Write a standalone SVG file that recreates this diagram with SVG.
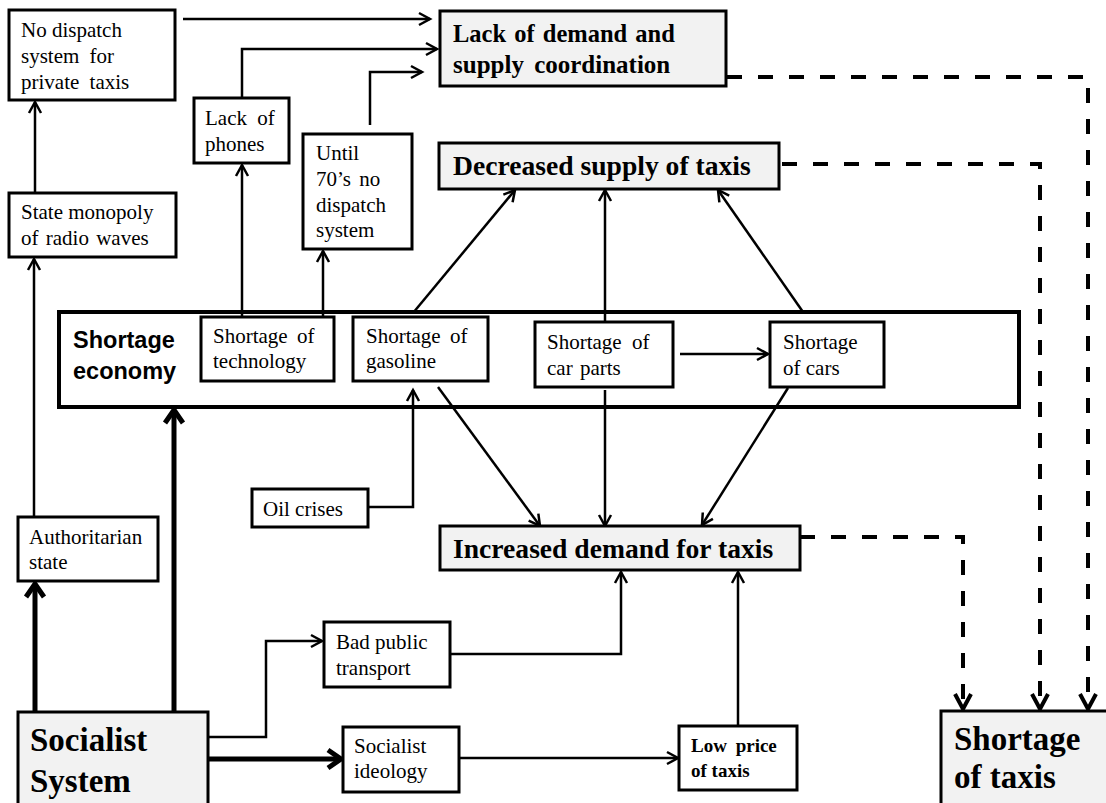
<svg xmlns="http://www.w3.org/2000/svg" width="1106" height="803" viewBox="0 0 1106 803">
<style>
.box{fill:#fff;stroke:#000;stroke-width:3}
.hl{fill:#f2f2f2;stroke:#000;stroke-width:3}
.big{fill:none;stroke:#000;stroke-width:4}
.t{font-family:"Liberation Serif","Times New Roman",serif;font-size:21px;fill:#000}
.tb{font-family:"Liberation Serif","Times New Roman",serif;font-weight:bold;fill:#000}
.ts{font-family:"Liberation Sans",Arial,sans-serif;font-weight:bold;font-size:23.5px;fill:#000}
.c{fill:none;stroke:#000;stroke-width:2.5}
.ck{fill:none;stroke:#000;stroke-width:5}
.d{fill:none;stroke:#000;stroke-width:4;stroke-dasharray:15 16}
</style>
<defs>
<marker id="a" markerUnits="userSpaceOnUse" markerWidth="30" markerHeight="30" viewBox="-15 -15 30 30" refX="0" refY="0" orient="auto"><path d="M-11,-6 L0,0 L-11,6" fill="none" stroke="#000" stroke-width="2.5"/></marker>
<marker id="ak" markerUnits="userSpaceOnUse" markerWidth="40" markerHeight="40" viewBox="-20 -20 40 40" refX="0" refY="0" orient="auto"><path d="M-13,-9 L0,0 L-13,9" fill="none" stroke="#000" stroke-width="5"/></marker>
<marker id="ad" markerUnits="userSpaceOnUse" markerWidth="40" markerHeight="40" viewBox="-20 -20 40 40" refX="0" refY="0" orient="auto"><path d="M-15,-8 L0,0 L-15,8" fill="none" stroke="#000" stroke-width="4"/></marker>
</defs>

<g id="connectors">
<path class="c" d="M183,19 H430" marker-end="url(#a)"/>
<path class="c" d="M242,98 V49 H437" marker-end="url(#a)"/>
<path class="c" d="M370,125 V72 H422" marker-end="url(#a)"/>
<path class="c" d="M35,193 V102" marker-end="url(#a)"/>
<path class="c" d="M34,517 V259" marker-end="url(#a)"/>
<path class="c" d="M242,316 V165" marker-end="url(#a)"/>
<path class="c" d="M323,316 V251" marker-end="url(#a)"/>
<path class="c" d="M413,313 L515,190" marker-end="url(#a)"/>
<path class="c" d="M605,322 V190" marker-end="url(#a)"/>
<path class="c" d="M803,312 L718,190" marker-end="url(#a)"/>
<path class="c" d="M680,354 H768" marker-end="url(#a)"/>
<path class="c" d="M438,387 L540,526" marker-end="url(#a)"/>
<path class="c" d="M605,390 V526" marker-end="url(#a)"/>
<path class="c" d="M788,388 L702,525" marker-end="url(#a)"/>
<path class="c" d="M368,507 H413 V390" marker-end="url(#a)"/>
<path class="ck" d="M35,712 V584" marker-end="url(#ak)"/>
<path class="ck" d="M174,712 V410" marker-end="url(#ak)"/>
<path class="c" d="M208,737 H266 V641 H322" marker-end="url(#a)"/>
<path class="ck" d="M208,759 H341" marker-end="url(#ak)"/>
<path class="c" d="M450,654 H621 V572" marker-end="url(#a)"/>
<path class="c" d="M459,758 H678" marker-end="url(#a)"/>
<path class="c" d="M738,726 V572" marker-end="url(#a)"/>
<path class="d" d="M727,77 H1088 V709" marker-end="url(#ad)"/>
<path class="d" d="M782,164 H1040 V709" marker-end="url(#ad)"/>
<path class="d" d="M800,537 H963 V709" marker-end="url(#ad)"/>
</g>

<g id="shortage-economy">
<rect class="big" x="59" y="312" width="960" height="95"/>
<text class="ts" x="73" y="348">Shortage</text>
<text class="ts" x="73" y="379">economy</text>
</g>

<g id="no-dispatch">
<rect class="box" x="9" y="10" width="166" height="90"/>
<text class="t" x="21" y="37">No dispatch</text>
<text class="t" x="21" y="63" word-spacing="5">system for</text>
<text class="t" x="21" y="89" word-spacing="5">private taxis</text>
</g>

<g id="lack-coordination">
<rect class="hl" x="440" y="11" width="286" height="75"/>
<text class="tb" font-size="24.5" x="453" y="42" word-spacing="2">Lack of demand and</text>
<text class="tb" font-size="25" x="453" y="73" word-spacing="4">supply coordination</text>
</g>

<g id="lack-phones">
<rect class="box" x="194" y="98" width="95" height="65"/>
<text class="t" x="205" y="125" word-spacing="5">Lack of</text>
<text class="t" x="205" y="151">phones</text>
</g>

<g id="until-70s">
<rect class="box" x="303" y="134" width="109" height="115"/>
<text class="t" x="316" y="160">Until</text>
<text class="t" x="316" y="186" word-spacing="3">70’s no</text>
<text class="t" x="316" y="212">dispatch</text>
<text class="t" x="316" y="237">system</text>
</g>

<g id="state-monopoly">
<rect class="box" x="9" y="193" width="167" height="64"/>
<text class="t" x="21" y="219">State monopoly</text>
<text class="t" x="21" y="245" word-spacing="2">of radio waves</text>
</g>

<g id="decreased-supply">
<rect class="hl" x="439" y="143" width="340" height="46"/>
<text class="tb" font-size="27.6" x="453" y="175">Decreased supply of taxis</text>
</g>

<g id="shortage-technology">
<rect class="box" x="201" y="317" width="133" height="64"/>
<text class="t" x="213" y="343" word-spacing="4">Shortage of</text>
<text class="t" x="213" y="368">technology</text>
</g>

<g id="shortage-gasoline">
<rect class="box" x="353" y="317" width="135" height="64"/>
<text class="t" x="366" y="343" word-spacing="4">Shortage of</text>
<text class="t" x="366" y="368">gasoline</text>
</g>

<g id="shortage-car-parts">
<rect class="box" x="535" y="322" width="138" height="65"/>
<text class="t" x="547" y="349" word-spacing="5">Shortage of</text>
<text class="t" x="547" y="375" word-spacing="2">car parts</text>
</g>

<g id="shortage-cars">
<rect class="box" x="770" y="322" width="114" height="65"/>
<text class="t" x="783" y="349">Shortage</text>
<text class="t" x="783" y="375">of cars</text>
</g>

<g id="oil-crises">
<rect class="box" x="252" y="489" width="116" height="38"/>
<text class="t" x="263" y="516">Oil crises</text>
</g>

<g id="increased-demand">
<rect class="hl" x="440" y="526" width="360" height="44"/>
<text class="tb" font-size="27.6" x="453" y="558">Increased demand for taxis</text>
</g>

<g id="authoritarian-state">
<rect class="box" x="18" y="517" width="140" height="64"/>
<text class="t" x="29" y="544">Authoritarian</text>
<text class="t" x="29" y="569">state</text>
</g>

<g id="socialist-system">
<rect class="hl" x="18" y="712" width="190" height="100"/>
<text class="tb" font-size="33" x="30" y="751">Socialist</text>
<text class="tb" font-size="33" x="30" y="792">System</text>
</g>

<g id="bad-public-transport">
<rect class="box" x="324" y="622" width="126" height="65"/>
<text class="t" x="336" y="649">Bad public</text>
<text class="t" x="336" y="675">transport</text>
</g>

<g id="socialist-ideology">
<rect class="box" x="343" y="727" width="116" height="65"/>
<text class="t" x="354" y="753">Socialist</text>
<text class="t" x="354" y="778">ideology</text>
</g>

<g id="low-price">
<rect class="box" x="679" y="726" width="118" height="64"/>
<text class="tb" font-size="19" x="691" y="752" word-spacing="4">Low price</text>
<text class="tb" font-size="19" x="691" y="777">of taxis</text>
</g>

<g id="shortage-taxis">
<rect class="hl" x="941" y="711" width="170" height="100"/>
<text class="tb" font-size="33" x="954" y="750">Shortage</text>
<text class="tb" font-size="33" x="954" y="788">of taxis</text>
</g>
</svg>
